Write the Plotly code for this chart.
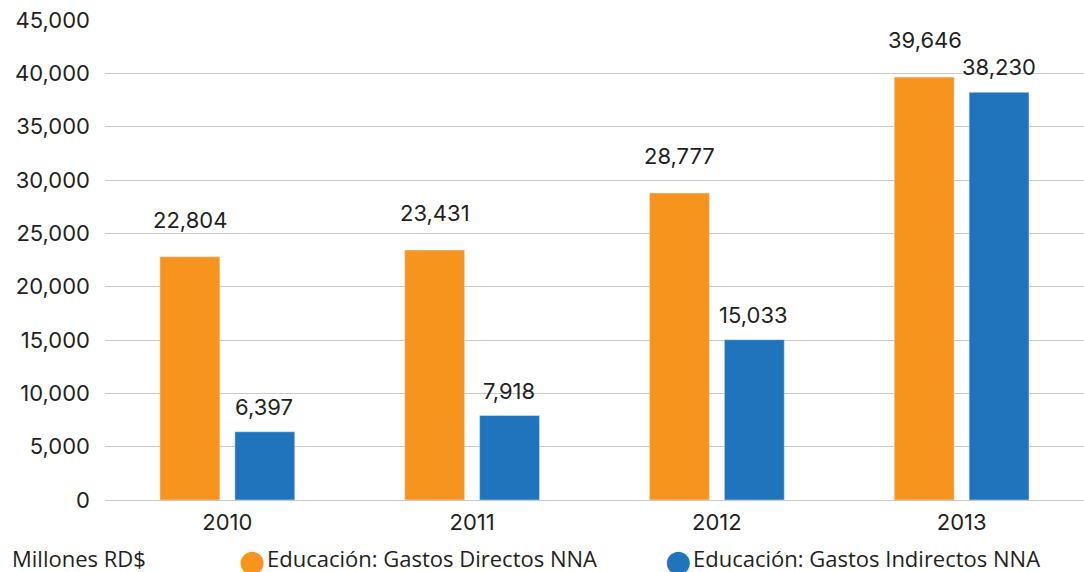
import plotly.graph_objects as go

years = ["2010", "2011", "2012", "2013"]
directos = [22804, 23431, 28777, 39646]
indirectos = [6397, 7918, 15033, 38230]
directos_name = "Educación: Gastos Directos NNA"
indirectos_name = "Educación: Gastos Indirectos NNA"
unit_label = "Millones RD$"

orange = "#F7941D"
blue = "#1F74BC"
ink = "#231F20"
num_font = "Inter"
legend_font = "Open Sans"

fig = go.Figure()
fig.add_bar(x=years, y=directos, name=directos_name, marker_color=orange,
            showlegend=False)
fig.add_bar(x=years, y=indirectos, name=indirectos_name, marker_color=blue,
            showlegend=False)

# value labels above each bar (x = category index)
for i, v in enumerate(directos):
    fig.add_annotation(x=i, y=v, text=f"{v:,}", showarrow=False,
                       xshift=-37, yshift=37,
                       font=dict(family=num_font, size=22, color=ink))
for i, v in enumerate(indirectos):
    fig.add_annotation(x=i, y=v, text=f"{v:,}", showarrow=False,
                       xshift=37, yshift=25,
                       font=dict(family=num_font, size=22, color=ink))

# bottom legend row: unit note, then coloured dots + series names
fig.add_annotation(xref="paper", yref="paper", x=-0.097, y=-0.121,
                   xanchor="left", yanchor="middle", showarrow=False,
                   text=unit_label,
                   font=dict(family=legend_font, size=22, color=ink))
for xd, col, name in [(0.150, orange, directos_name), (0.5853, blue, indirectos_name)]:
    fig.add_annotation(xref="paper", yref="paper", x=xd, y=-0.127,
                       xanchor="center", yanchor="middle", showarrow=False,
                       text="●", font=dict(family="DejaVu Sans", size=30, color=col))
    fig.add_annotation(xref="paper", yref="paper", x=xd + 0.0135, y=-0.121,
                       xanchor="left", yanchor="middle", showarrow=False,
                       text=name,
                       font=dict(family=legend_font, size=22, color=ink))

fig.update_layout(
    width=1084, height=572,
    margin=dict(l=105, r=0, t=20, b=72),
    paper_bgcolor="white", plot_bgcolor="white",
    barmode="group", bargap=0.388, bargroupgap=0.2,
    font=dict(family=num_font, size=22, color=ink),
)
fig.update_yaxes(range=[0, 45000], dtick=5000, tickformat=",",
                 showgrid=True, gridcolor="#C8C8C8", gridwidth=1,
                 zeroline=True, zerolinecolor="#C8C8C8", zerolinewidth=1,
                 ticks="", ticklabelstandoff=14,
                 tickfont=dict(family=num_font, size=22, color=ink))
fig.update_xaxes(type="category", range=[-0.5, 3.5], showgrid=False,
                 showline=False, ticks="", ticklabelstandoff=7,
                 tickfont=dict(family=num_font, size=22, color=ink))

fig.write_html("out.html", config={"displayModeBar": False},
               post_script="document.body.style.margin='0';")
